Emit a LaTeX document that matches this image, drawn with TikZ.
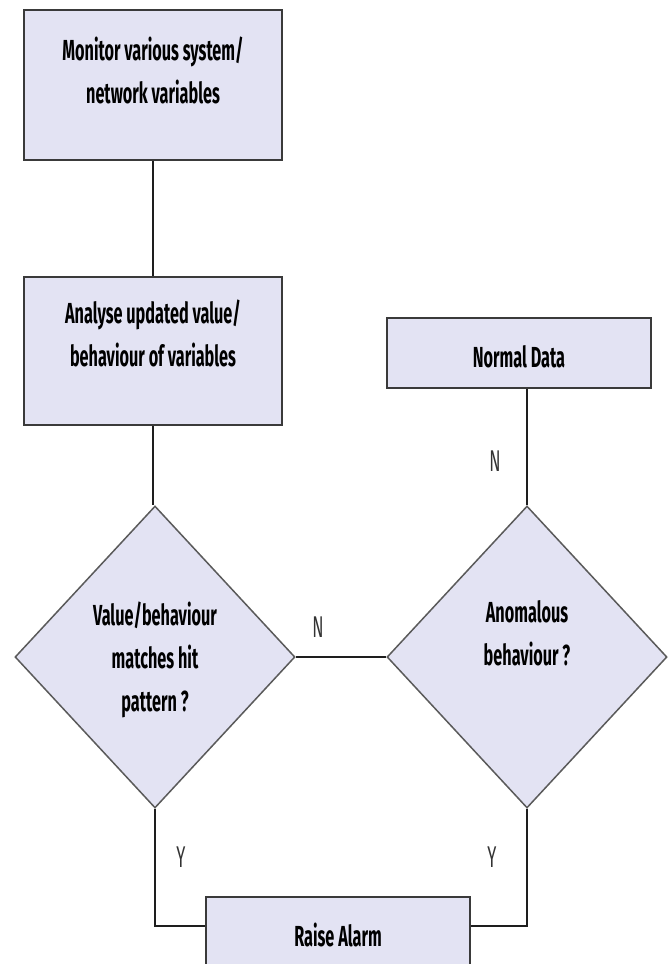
\documentclass[tikz,border=0pt]{standalone}
\usepackage{fontspec}
\newfontfamily\boxfont{Fira Sans}[FakeStretch=0.56]
\newfontfamily\markfont{Fira Sans}[FakeStretch=0.55]
\usetikzlibrary{shapes.geometric}
\definecolor{boxfill}{RGB}{227,227,243}
\definecolor{boxline}{RGB}{58,58,58}
\definecolor{diamline}{RGB}{90,90,90}
\definecolor{linkline}{RGB}{30,30,30}
\begin{document}
\begin{tikzpicture}[x=1pt,y=-1pt,
  stepbox/.style={draw=boxline, line width=2.5pt, fill=boxfill, rectangle, inner sep=0pt},
  decision/.style={draw=diamline, line width=1.5pt, fill=boxfill, diamond, inner sep=0pt,
    minimum width=280pt, minimum height=302pt},
  boxtext/.style={font=\boxfont\bfseries\fontsize{29}{43}\selectfont, align=center,
    inner sep=0pt, text=black},
  flowlabel/.style={font=\markfont\fontsize{30}{36}\selectfont, inner sep=0pt, text=black!80},
  link/.style={draw=linkline, line width=1.5pt}
]
\useasboundingbox (0,0) rectangle (672,964);
\fill[white] (0,0) rectangle (672,964);
\begin{scope}
\clip (0,0) rectangle (672,964);

% process boxes and decisions
\node[stepbox, minimum width=258pt, minimum height=150pt] (monitor) at (153,85) {};
\node[stepbox, minimum width=258pt, minimum height=148pt] (analyse) at (153,351) {};
\node[stepbox, minimum width=264pt, minimum height=70pt] (normal) at (519,353) {};
\node[decision] (match) at (155,657) {};
\node[decision] (anom) at (527,657) {};
\node[stepbox, minimum width=264pt, minimum height=80pt] (alarm) at (338,937) {};

% connectors
\draw[link] (monitor.south) -- (analyse.north);
\draw[link] (analyse.south) -- (analyse.south |- match.north);
\draw[link] (match.east) -- (anom.west);
\draw[link] (anom.north) -- (anom.north |- normal.south);
\draw[link] (match.south) |- ([yshift=-30pt]alarm.north west);
\draw[link] (anom.south) |- ([yshift=-30pt]alarm.north east);

% box texts
\node[boxtext] (monitortext) at (153,70) {Monitor various system/\\network variables};
\node[boxtext] (analysetext) at (153,333) {Analyse updated value/\\behaviour of variables};
\node[boxtext] (normaltext) at (519,357) {Normal Data};
\node[boxtext] (matchtext) at (155,660) {Value/behaviour\\matches hit\\pattern ?};
\node[boxtext] (anomtext) at (527,633) {Anomalous\\behaviour ?};
\node[boxtext] (alarmtext) at (338,935) {Raise Alarm};

% branch labels
\node[flowlabel] (nmid) at (318,627) {N};
\node[flowlabel] (ntop) at (495,461) {N};
\node[flowlabel] (yleft) at (181,857) {Y};
\node[flowlabel] (yright) at (492,857) {Y};
\end{scope}
\end{tikzpicture}
\end{document}
